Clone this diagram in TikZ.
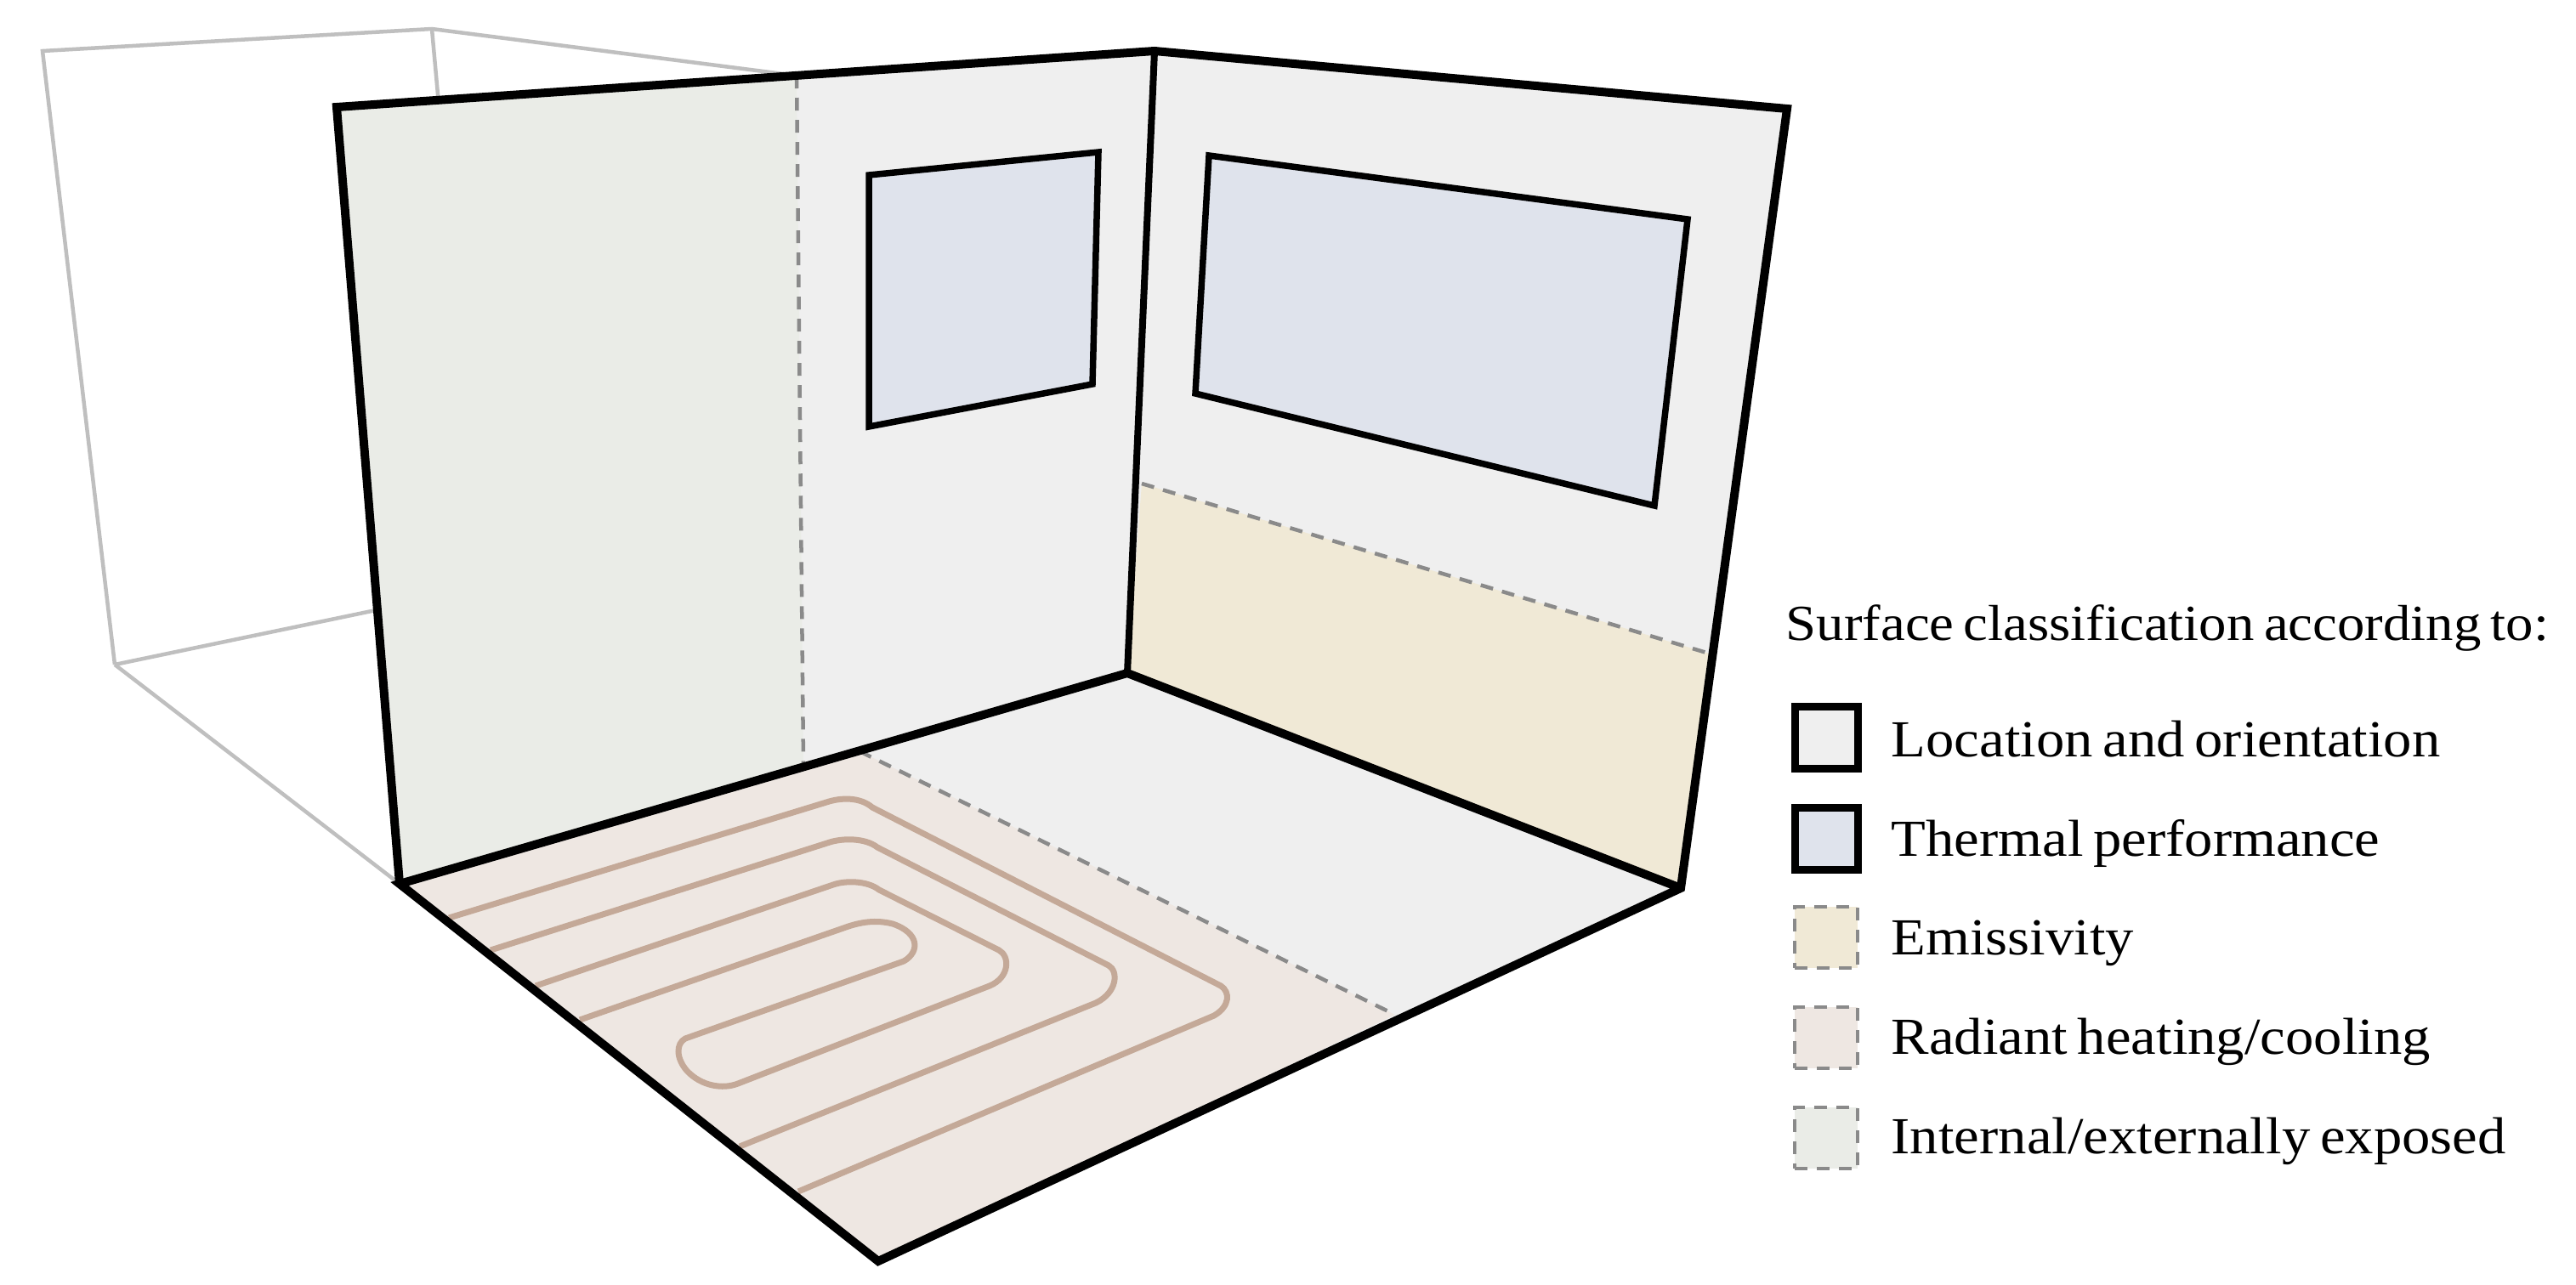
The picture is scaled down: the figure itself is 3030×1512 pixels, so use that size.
\documentclass[tikz,border=0pt]{standalone}
\usepackage{fontspec}
\setmainfont{Liberation Serif}[WordSpace=0.7,FakeStretch=1.09]
\usepackage{tikz}
\usetikzlibrary{positioning}
\definecolor{wallgrey}{HTML}{EFEFEF}
\definecolor{windowblue}{HTML}{DFE3EC}
\definecolor{emissyellow}{HTML}{F0E9D6}
\definecolor{radiantpink}{HTML}{EEE7E2}
\definecolor{exposedgreen}{HTML}{EAECE7}
\definecolor{pipebrown}{HTML}{C4A998}
\definecolor{dashgrey}{HTML}{8A8A8A}
\definecolor{ghostgrey}{HTML}{BFBFBF}
\begin{document}
\begin{tikzpicture}[x=0.01cm,y=-0.01cm]
	\tikzset{ghost/.style={draw=ghostgrey,line width=0.45mm}}
	\tikzset{edge/.style={draw=black,line width=1mm,line join=miter}}
	\tikzset{windowedge/.style={draw=black,line width=0.75mm,fill=windowblue}}
	\tikzset{split/.style={draw=dashgrey,line width=0.45mm,dash pattern=on 1.5mm off 1.1mm}}
	\tikzset{pipe/.style={draw=pipebrown,line width=0.7mm}}
	\tikzset{swatch/.style={minimum width=0.74cm,minimum height=0.72cm,inner sep=0pt,outer sep=0pt}}
	\tikzset{solidswatch/.style={swatch,draw=black,line width=0.9mm}}
	\tikzset{dashswatch/.style={swatch,draw=dashgrey,line width=0.45mm,dash pattern=on 1.5mm off 1.1mm}}
	\tikzset{legendtext/.style={anchor=base west,inner sep=0pt,font=\fontsize{17.4}{19}\selectfont}}
	\useasboundingbox (0,0) rectangle (3030,1512);
	% room corners
	\coordinate (topleft) at (396,126);
	\coordinate (topmid) at (1358,60);
	\coordinate (topright) at (2102,128);
	\coordinate (backleft) at (470,1040);
	\coordinate (backmid) at (1326,792);
	\coordinate (backright) at (1977,1045);
	\coordinate (fronttip) at (1033,1484);
	\coordinate (greentop) at (937,89);
	\coordinate (greenbot) at (945,899);
	\coordinate (yellowleft) at (1343,569);
	\coordinate (yellowright) at (2014,770);
	\coordinate (radiantleft) at (1011,884);
	\coordinate (radiantright) at (1641,1194);
	% hidden room behind the wall
	\coordinate (ghostleft) at (50,60);
	\coordinate (ghostmid) at (508,34);
	\coordinate (ghostbot) at (135,782);
	\draw[ghost] (ghostbot) -- (ghostleft) -- (ghostmid) -- (greentop);
	\draw[ghost] (ghostmid) -- (516,122);
	\draw[ghost] (ghostbot) -- (442,718);
	\draw[ghost] (ghostbot) -- (backleft);
	% surfaces
	\fill[wallgrey] (topleft) -- (topmid) -- (topright) -- (backright) -- (fronttip) -- (backleft) -- cycle;
	\fill[exposedgreen] (topleft) -- (greentop) -- (greenbot) -- (backleft) -- cycle;
	\fill[emissyellow] (yellowleft) -- (yellowright) -- (backright) -- (backmid) -- cycle;
	\fill[radiantpink] (backleft) -- (radiantleft) -- (radiantright) -- (fronttip) -- cycle;
	% heating pipes
	\draw[pipe] (528,1080) -- (972,944) .. controls (990,938) and (1012,938) .. (1026,950) -- (1436,1160)
		.. controls (1447,1167) and (1447,1184) .. (1428,1195) -- (939,1402);
	\draw[pipe] (577,1118) -- (976,991) .. controls (992,986) and (1018,986) .. (1032,997) -- (1304,1136)
		.. controls (1316,1143) and (1314,1168) .. (1289,1180) -- (870,1349);
	\draw[pipe] (630,1160) -- (980,1041) .. controls (994,1036) and (1020,1036) .. (1034,1047) -- (1175,1118)
		.. controls (1188,1125) and (1188,1150) .. (1164,1160) -- (868,1275)
		.. controls (850,1282) and (825,1278) .. (808,1260) .. controls (795,1245) and (795,1228) .. (806,1222)
		-- (1063,1131) .. controls (1082,1120) and (1082,1098) .. (1050,1087) .. controls (1030,1082) and (1012,1085) .. (995,1091) -- (682,1200);
	% dashed borders
	\draw[split] (greentop) -- (greenbot);
	\draw[split] (yellowleft) -- (yellowright);
	\draw[split] (radiantleft) -- (radiantright);
	% windows
	\draw[windowedge] (1022,206) -- (1292,179) -- (1285,452) -- (1022,502) -- cycle;
	\draw[windowedge] (1422,183) -- (1985,258) -- (1946,595) -- (1406,463) -- cycle;
	% room edges
	\draw[edge] (backleft) -- (topleft) -- (topmid) -- (topright) -- (backright) -- (fronttip) -- (backleft) -- (backmid) -- (backright);
	\draw[edge,line width=0.8mm] (topmid) -- (backmid);
	% legend
	\node[legendtext,font=\fontsize{16.9}{19}\selectfont] (legendtitle) at (2100,753) {Surface classification according to:};
	\node[solidswatch,fill=wallgrey] (swatcha) at (2148,868) {};
	\node[solidswatch,fill=windowblue] (swatchb) at (2148,987) {};
	\node[dashswatch,fill=emissyellow] (swatchc) at (2148,1103) {};
	\node[dashswatch,fill=radiantpink] (swatchd) at (2148,1221) {};
	\node[dashswatch,fill=exposedgreen] (swatche) at (2148,1339) {};
	\node[legendtext] (labela) at (2224,890) {Location and orientation};
	\node[legendtext] (labelb) at (2224,1007) {Thermal performance};
	\node[legendtext] (labelc) at (2224,1123) {Emissivity};
	\node[legendtext] (labeld) at (2224,1240) {Radiant heating/cooling};
	\node[legendtext] (labele) at (2224,1357) {Internal/externally exposed};
\end{tikzpicture}
\end{document}
